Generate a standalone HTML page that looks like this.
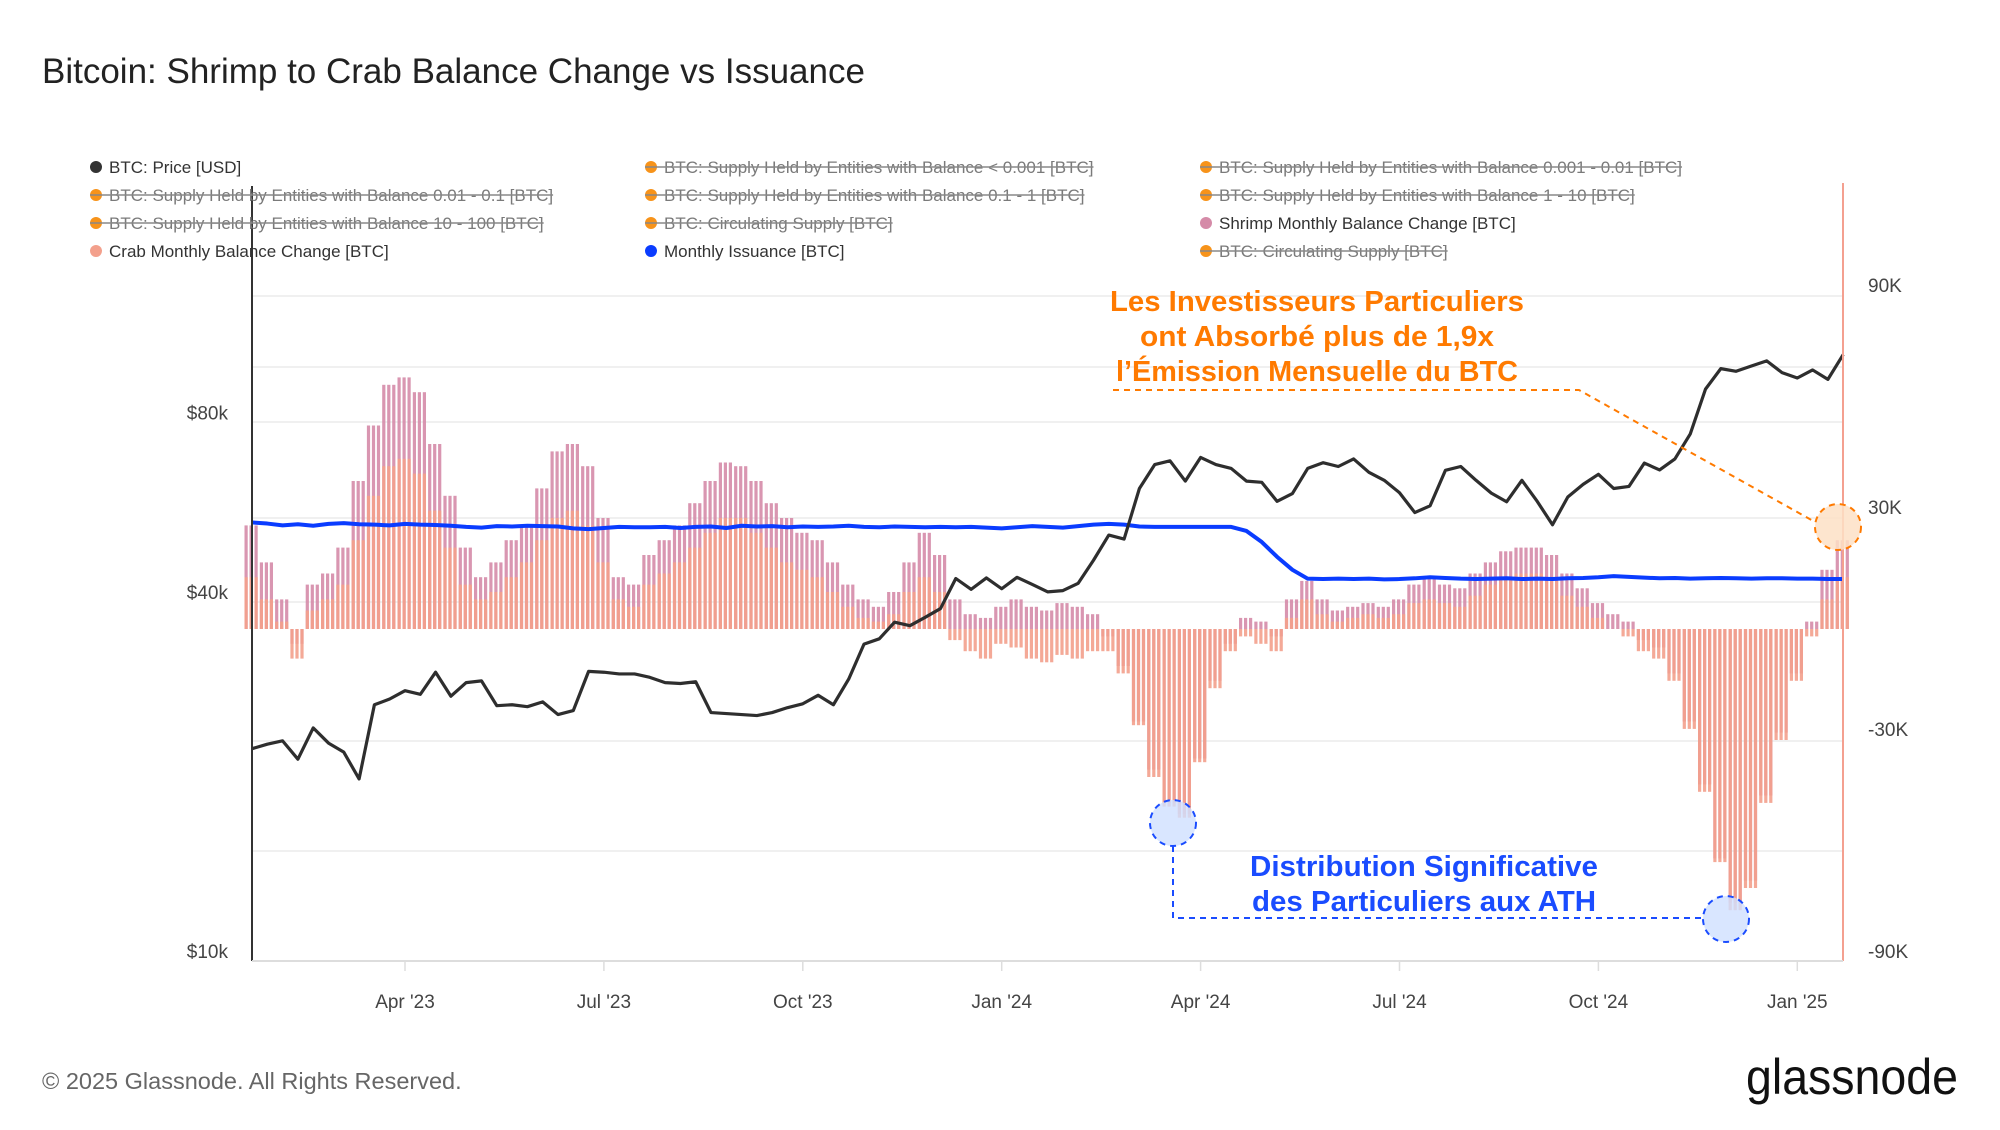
<!DOCTYPE html>
<html><head><meta charset="utf-8"><style>
html,body{margin:0;padding:0;background:#fff;}
svg text{font-family:"Liberation Sans",sans-serif;}
</style></head><body>
<svg id="chart" width="2000" height="1125" viewBox="0 0 2000 1125" xmlns="http://www.w3.org/2000/svg">
<rect width="2000" height="1125" fill="#fff"/>
<text x="42" y="83" font-size="35" fill="#222">Bitcoin: Shrimp to Crab Balance Change vs Issuance</text>
<g id="grid"></g>
<g id="bars"></g>
<g id="lines"></g>
<g id="axes"></g>
<g id="legend"></g>
<g>
<text x="1317" y="311" text-anchor="middle" font-size="29" font-weight="bold" fill="#ff7a00" textLength="414" lengthAdjust="spacingAndGlyphs">Les Investisseurs Particuliers</text>
<text x="1317" y="346" text-anchor="middle" font-size="29" font-weight="bold" fill="#ff7a00" textLength="354" lengthAdjust="spacingAndGlyphs">ont Absorbé plus de 1,9x</text>
<text x="1317" y="381" text-anchor="middle" font-size="29" font-weight="bold" fill="#ff7a00" textLength="402" lengthAdjust="spacingAndGlyphs">l’Émission Mensuelle du BTC</text>
<polyline points="1113,390 1579,390 1815,522" fill="none" stroke="#ff7a00" stroke-width="2" stroke-dasharray="6,5"/>
<circle cx="1838" cy="527" r="23" fill="#fde0c6" fill-opacity="0.85" stroke="#ff7a00" stroke-width="2" stroke-dasharray="6,5"/>
</g>
<g>
<text x="1424" y="876" text-anchor="middle" font-size="29" font-weight="bold" fill="#1a4cff" textLength="348" lengthAdjust="spacingAndGlyphs">Distribution Significative</text>
<text x="1424" y="911" text-anchor="middle" font-size="29" font-weight="bold" fill="#1a4cff" textLength="344" lengthAdjust="spacingAndGlyphs">des Particuliers aux ATH</text>
<polyline points="1173,846 1173,918 1703,918" fill="none" stroke="#1a4cff" stroke-width="2" stroke-dasharray="6,5"/>
<circle cx="1173" cy="823" r="23" fill="#cfe0ff" fill-opacity="0.8" stroke="#1a4cff" stroke-width="2" stroke-dasharray="6,5"/>
<circle cx="1726" cy="919" r="23" fill="#cfe0ff" fill-opacity="0.8" stroke="#1a4cff" stroke-width="2" stroke-dasharray="6,5"/>
</g>
<text x="42" y="1089" font-size="23.5" fill="#666">© 2025 Glassnode. All Rights Reserved.</text>
<text x="1746" y="1094" font-size="50" fill="#111" textLength="212" lengthAdjust="spacingAndGlyphs">glassnode</text>
</svg>
<script>
const shrimp = [28,18,8,-4,12,15,22,40,55,66,68,64,50,36,22,14,18,24,28,38,48,50,44,30,14,12,20,24,28,34,40,45,44,40,34,30,26,24,18,12,8,6,10,18,26,20,8,4,3,6,8,6,5,7,6,4,-2,-10,-25,-38,-47,-50,-35,-14,-4,3,2,-2,8,13,8,5,6,7,6,8,12,14,12,11,15,18,21,22,22,20,15,11,7,4,2,-3,-5,-12,-25,-42,-62,-74,-68,-45,-28,-12,2,16,24];
const crab = [14,8,2,-8,5,8,12,24,36,44,46,42,32,22,12,8,10,14,18,24,30,32,28,18,8,6,12,15,18,22,26,30,30,26,22,18,16,14,10,6,3,2,4,10,14,10,-3,-6,-8,-4,-5,-8,-9,-7,-8,-6,-6,-12,-26,-40,-48,-51,-36,-16,-6,-2,-4,-6,3,8,4,2,3,4,3,4,7,8,7,6,9,12,14,15,15,13,9,6,3,0,-2,-6,-8,-14,-27,-44,-63,-76,-70,-47,-30,-14,-2,8,14];
const issuance = [28.8,28.5,28.0,28.3,27.9,28.4,28.6,28.3,28.2,28.0,28.4,28.2,28.1,27.9,27.6,27.4,27.8,27.7,27.9,27.8,27.7,27.2,27.0,27.3,27.6,27.5,27.5,27.6,27.3,27.6,27.7,27.3,27.9,27.7,27.8,27.5,27.7,27.6,27.7,27.9,27.6,27.5,27.7,27.6,27.5,27.6,27.5,27.6,27.4,27.2,27.5,27.8,27.6,27.4,27.8,28.2,28.4,28.2,27.7,27.6,27.6,27.6,27.6,27.6,27.6,26.5,23.5,19.5,16.0,13.6,13.5,13.6,13.5,13.6,13.4,13.5,13.7,14.0,13.8,13.6,13.5,13.6,13.7,13.5,13.6,13.5,13.7,13.8,14.0,14.3,14.1,13.9,13.7,13.8,13.6,13.7,13.8,13.7,13.6,13.7,13.7,13.6,13.6,13.5,13.5];
const price = [22.7,23.1,23.4,21.8,24.6,23.2,22.4,20.2,26.9,27.5,28.4,28.0,30.5,27.8,29.3,29.5,26.8,26.9,26.7,27.2,25.9,26.3,30.6,30.5,30.3,30.3,29.9,29.3,29.2,29.4,26.1,26.0,25.9,25.8,26.1,26.6,27.0,27.9,26.9,29.7,34.0,34.7,37.0,36.5,37.7,39.0,43.8,42.0,43.9,42.1,44.0,42.8,41.6,41.8,43.0,47.0,51.8,51.0,62.0,68.0,69.0,63.8,69.9,68.0,67.0,63.8,63.5,59.0,60.8,67.0,68.5,67.5,69.5,66.0,64.0,61.0,56.5,58.0,66.5,67.5,64.0,60.9,58.9,64.0,59.0,53.9,60.0,63.0,65.5,62.0,62.5,68.4,66.6,69.5,76.5,91.0,98.5,97.5,99.5,101.5,97.0,95.0,98.0,94.5,104.0];
const xTickLabels = ["Apr '23","Jul '23","Oct '23","Jan '24","Apr '24","Jul '24","Oct '24","Jan '25"];
const xTickWeeks = [10,23,36,49,62,75,88,101];
const leftTickLabels = ["$10k","$40k","$80k"];
const leftTickValues = [10,40,80];
const rightTickLabels = ["90K","30K","-30K","-90K"];
const rightTickValues = [90,30,-30,-90];

const NS="http://www.w3.org/2000/svg";
const X0=252, X1=1843, Ybot=961, Ytop=186;
const xScale = i => 252 + i*15.3;
const yRight = v => 629 - v*3.7;
const yLeft = p => 961 - 179.5*Math.log2(p/10);
function mk(tag, attrs, parent){const e=document.createElementNS(NS,tag);for(const k in attrs)e.setAttribute(k,attrs[k]);parent.appendChild(e);return e;}

const grid=document.getElementById('grid');
[296,367,422,518,602,741,851].forEach(y=>{
  const l=mk('line',{x1:X0,x2:X1,y1:y,y2:y,stroke:'#ececec','stroke-width':1.5},grid);
  
  
});

const bars=document.getElementById('bars');
const subOff=[-6,-1,4];
function drawBars(arr, color, name){
  arr.forEach((v,i)=>{
    const y0=yRight(0), y=yRight(v);
    subOff.forEach(o=>{
      const r=mk('rect',{x:xScale(i)+o-1.5,y:Math.min(y,y0),width:3.2,height:Math.abs(y-y0),fill:color,'fill-opacity':0.9},bars);
      
      
    });
  });
}
drawBars(shrimp,'#d58ba8','shrimp-bar');
drawBars(crab,'#f3a08c','crab-bar');

const lines=document.getElementById('lines');
const iss=mk('polyline',{points:issuance.map((v,i)=>xScale(i)+','+yRight(v)).join(' '),fill:'none',stroke:'#0a3cff','stroke-width':4,'stroke-linejoin':'round'},lines);


const pl=mk('polyline',{points:price.map((v,i)=>xScale(i)+','+yLeft(v)).join(' '),fill:'none',stroke:'#2e2e2e','stroke-width':3.2,'stroke-linejoin':'round'},lines);



const axes=document.getElementById('axes');
let a=mk('line',{x1:X0,x2:X0,y1:Ytop,y2:Ybot,stroke:'#333','stroke-width':2},axes);


a=mk('line',{x1:X1,x2:X1,y1:183,y2:Ybot,stroke:'#f4a090','stroke-width':2},axes);


a=mk('line',{x1:X0,x2:X1,y1:Ybot,y2:Ybot,stroke:'#ddd','stroke-width':2},axes);


xTickLabels.forEach((t,k)=>{
  const x=xScale(xTickWeeks[k]);
  const tk=mk('line',{x1:x,x2:x,y1:Ybot,y2:Ybot+10,stroke:'#ddd','stroke-width':1.5},axes);
  
  
  const e=mk('text',{x:x,y:1008,'text-anchor':'middle','font-size':19,fill:'#444'},axes);
  e.textContent=t;
  
  
});
leftTickLabels.forEach((t,k)=>{
  const e=mk('text',{x:228,y:yLeft(leftTickValues[k])-3,'text-anchor':'end','font-size':19,fill:'#444'},axes);
  e.textContent=t;
  
  
});
rightTickLabels.forEach((t,k)=>{
  const e=mk('text',{x:1868,y:yRight(rightTickValues[k])-4,'font-size':19,fill:'#444'},axes);
  e.textContent=t;
  
  
});

const legendItems=[
 ["BTC: Price [USD]","#333",false],["BTC: Supply Held by Entities with Balance < 0.001 [BTC]","#f7931a",true],["BTC: Supply Held by Entities with Balance 0.001 - 0.01 [BTC]","#f7931a",true],
 ["BTC: Supply Held by Entities with Balance 0.01 - 0.1 [BTC]","#f7931a",true],["BTC: Supply Held by Entities with Balance 0.1 - 1 [BTC]","#f7931a",true],["BTC: Supply Held by Entities with Balance 1 - 10 [BTC]","#f7931a",true],
 ["BTC: Supply Held by Entities with Balance 10 - 100 [BTC]","#f7931a",true],["BTC: Circulating Supply [BTC]","#f7931a",true],["Shrimp Monthly Balance Change [BTC]","#d58ba8",false],
 ["Crab Monthly Balance Change [BTC]","#f3a08c",false],["Monthly Issuance [BTC]","#0a3cff",false],["BTC: Circulating Supply [BTC]","#f7931a",true]];
const lg=document.getElementById('legend');
const colX=[96,651,1206], rowY=[167,195,223,251];
legendItems.forEach((it,k)=>{
  const cx=colX[k%3], cy=rowY[Math.floor(k/3)];
  const g=mk('g',{},lg);
  
  
  mk('circle',{cx:cx,cy:cy,r:6,fill:it[1]},g);
  const t=mk('text',{x:cx+13,y:cy+6,'font-size':17,fill:it[2]?'#7a7a7a':'#333'},g);
  t.textContent=it[0];
  if(it[2]){
    const w=t.getComputedTextLength();
    mk('line',{x1:cx-6,x2:cx+13+w,y1:cy,y2:cy,stroke:'#888','stroke-width':1.5},g);
  }
});
</script>
</body></html>
